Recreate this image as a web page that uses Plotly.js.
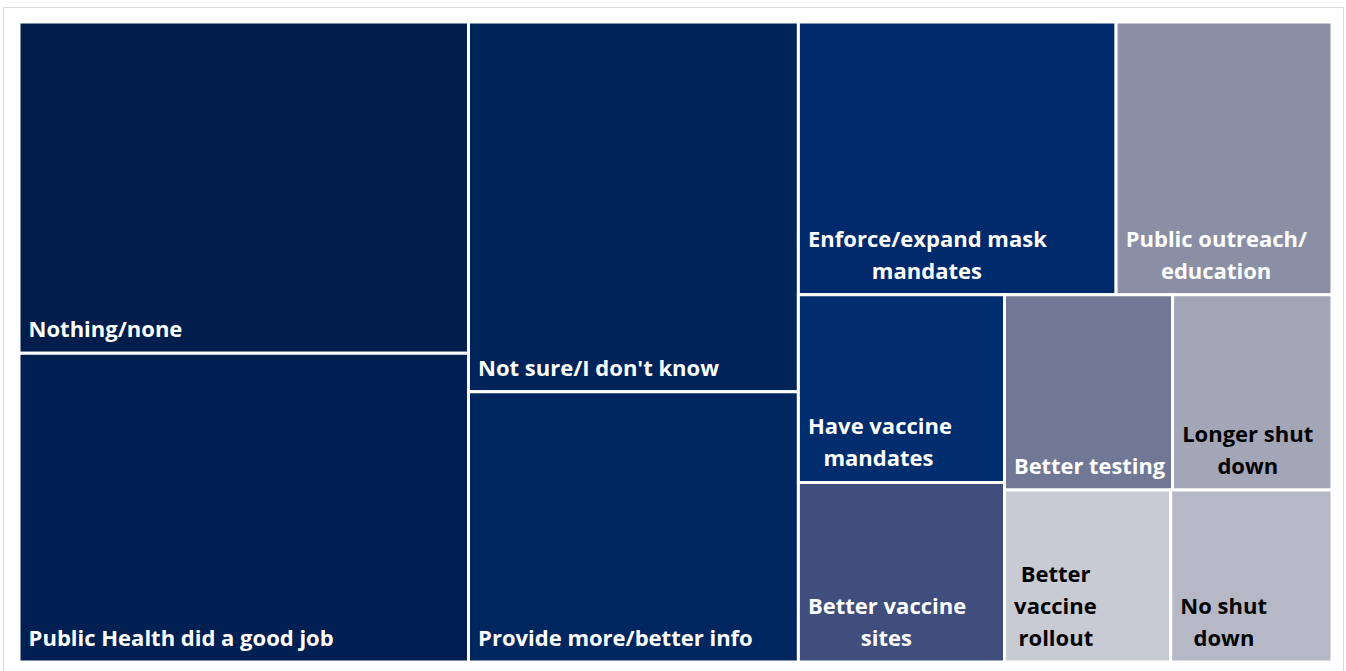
<!DOCTYPE html>
<html>
<head>
<meta charset="utf-8">
<script src="https://cdn.plot.ly/plotly-3.0.1.min.js"></script>
<style>
  html, body { margin: 0; padding: 0; background: #ffffff; }
  #frame { position: absolute; left: 3px; top: 7px; width: 1339px; height: 670px;
           border-left: 1px solid #d9d9d9; border-top: 1px solid #d9d9d9; border-right: 1px solid #d9d9d9; }
  #chart { position: absolute; left: 0; top: 0; width: 1346px; height: 671px; }
</style>
</head>
<body>
<div id="frame"></div>
<div id="chart"></div>
<script>
// Categories (responses) and their estimated shares
const categories = [
  "Nothing/none",
  "Public Health did a good job",
  "Not sure/I don't know",
  "Provide more/better info",
  "Enforce/expand mask mandates",
  "Public outreach/education",
  "Have vaccine mandates",
  "Better vaccine sites",
  "Better testing",
  "Longer shut down",
  "Better vaccine rollout",
  "No shut down"
];
const values = [17.7, 16.5, 14.5, 10.6, 10.3, 7.0, 4.6, 4.4, 3.9, 3.7, 3.4, 3.3];
// Tile labels as drawn (with line breaks)
const tileLabels = [
  "Nothing/none",
  "Public Health did a good job",
  "Not sure/I don't know",
  "Provide more/better info",
  "Enforce/expand mask<br>mandates",
  "Public outreach/<br>education",
  "Have vaccine<br>mandates",
  "Better vaccine<br>sites",
  "Better testing",
  "Longer shut<br>down",
  "Better<br>vaccine<br>rollout",
  "No shut<br>down"
];
const tileColors = [
  "#001d4b", "#001f53", "#00235a", "#002660", "#002a6b", "#8a8fa6",
  "#002d6e", "#3f4e7d", "#717896", "#a3a6b6", "#c8cbd3", "#b6b8c6"
];
const textColors = [
  "#ffffff", "#ffffff", "#ffffff", "#ffffff", "#ffffff", "#ffffff",
  "#ffffff", "#ffffff", "#ffffff", "#000000", "#000000", "#000000"
];

// --- label styling: lines centred on each other, block inset from tile edge ---
const FONT = "Open Sans";
const GLYPH_SIZE = 22;      // visible text size
const LINE_PITCH = 32;      // distance between lines
const LEFT_INSET = 6;       // extra inset from the tile's left edge
const BOTTOM_STRUT = 44;    // size of invisible trailing space that lifts text off the bottom edge

const ctx = document.createElement("canvas").getContext("2d");
ctx.font = "700 " + GLYPH_SIZE + "px '" + FONT + "'";
let SP = "\u200A";
let spW = ctx.measureText(SP).width;
if (!(spW > 0.5)) { SP = "\u00A0"; spW = ctx.measureText(SP).width; }
function padStr(px) { return SP.repeat(Math.max(0, Math.round(px / spW))); }

function styleLabel(lbl) {
  const lines = lbl.split("<br>");
  const widths = lines.map(l => ctx.measureText(l).width);
  const maxW = Math.max(...widths);
  const out = lines.map((l, i) =>
    '<span style="font-size:' + GLYPH_SIZE + 'px">' + padStr(LEFT_INSET + (maxW - widths[i]) / 2) + l + "</span>");
  out[out.length - 1] += '<span style="font-size:' + BOTTOM_STRUT + 'px">\u200A</span>';
  return out.join("<br>");
}

const trace = {
  type: "treemap",
  labels: categories,
  parents: categories.map(() => ""),
  values: values,
  text: tileLabels.map(styleLabel),
  textinfo: "text",
  textposition: "bottom left",
  sort: true,
  tiling: { packing: "squarify", squarifyratio: 1, pad: 0 },
  pathbar: { visible: false },
  marker: {
    colors: tileColors,
    line: { color: "#ffffff", width: 3 },
    pad: { t: 0, l: 0, r: 0, b: 0 }
  },
  textfont: { family: FONT + ", sans-serif", size: LINE_PITCH / 1.3, weight: 700, color: textColors },
  hoverinfo: "label+value"
};

const layout = {
  width: 1346,
  height: 671,
  margin: { l: 19, r: 14, t: 22, b: 9, pad: 0 },
  paper_bgcolor: "rgba(0,0,0,0)",
  plot_bgcolor: "rgba(0,0,0,0)",
  showlegend: false
};

Plotly.newPlot("chart", [trace], layout, { displayModeBar: false, staticPlot: true });
</script>
</body>
</html>
